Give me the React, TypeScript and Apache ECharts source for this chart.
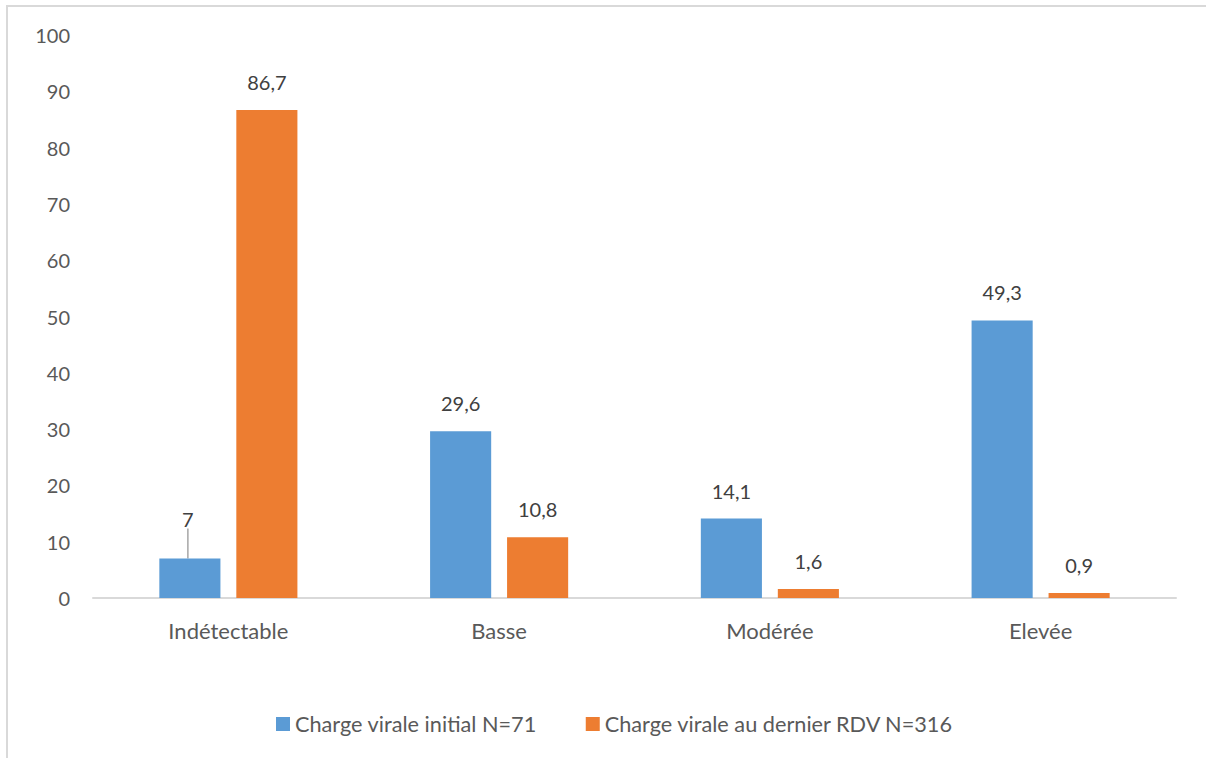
import React, { useEffect, useRef } from "react";
import * as echarts from "echarts";

const categories = ["Indétectable", "Basse", "Modérée", "Elevée"];
const seriesInitial = [7, 29.6, 14.1, 49.3];
const seriesDernier = [86.7, 10.8, 1.6, 0.9];
const seriesNames = ["Charge virale initial N=71", "Charge virale au dernier RDV N=316"];

const FONT = "Lato, 'Open Sans', sans-serif";
const fmt = (v: number) => String(v).replace(".", ",");

export default function App() {
  const ref = useRef<HTMLDivElement>(null);
  useEffect(() => {
    if (!ref.current) return;
    const chart = echarts.init(ref.current, null, { renderer: "svg" });
    const labelCommon = {
      show: true,
      position: "top" as const,
      distance: 18,
      color: "#404040",
      fontSize: 20,
      fontFamily: FONT,
      formatter: (p: any) => fmt(p.value),
    };
    chart.setOption({
      animation: false,
      backgroundColor: "#ffffff",
      textStyle: { fontFamily: FONT },
      grid: { left: 93, right: 30, top: 35, bottom: 160, containLabel: false },
      legend: {
        top: 708,
        left: 271,
        itemWidth: 14,
        itemHeight: 14,
        itemGap: 49,
        icon: "rect",
        textStyle: { color: "#595959", fontSize: 21.7, fontFamily: FONT },
        data: seriesNames,
      },
      xAxis: {
        type: "category",
        data: categories,
        axisLine: { lineStyle: { color: "#d9d9d9", width: 2 } },
        axisTick: { show: false },
        axisLabel: { color: "#595959", fontSize: 22, fontFamily: FONT, margin: 21 },
      },
      yAxis: {
        type: "value",
        min: 0,
        max: 100,
        interval: 10,
        axisLine: { show: false },
        axisTick: { show: false },
        splitLine: { show: false },
        axisLabel: { color: "#595959", fontSize: 20, fontFamily: FONT, margin: 23 },
      },
      series: [
        {
          name: seriesNames[0],
          type: "bar",
          barGap: "26%",
          barCategoryGap: "49%",
          itemStyle: { color: "#5B9BD5" },
          label: labelCommon,
          labelLine: { show: false, lineStyle: { color: "#a6a6a6", width: 1.5 } },
          labelLayout: (p: any) => (p.dataIndex === 0 ? { dy: -12, dx: -2 } : {}),
          data: seriesInitial.map((v, i) =>
            i === 0 ? { value: v, labelLine: { show: true } } : v
          ),
        },
        {
          name: seriesNames[1],
          type: "bar",
          barGap: "26%",
          barCategoryGap: "49%",
          itemStyle: { color: "#ED7D31" },
          label: labelCommon,
          data: seriesDernier,
        },
      ],
      graphic: [
        {
          type: "line",
          shape: { x1: 7, y1: 6, x2: 7, y2: 758 },
          style: { stroke: "#d9d9d9", lineWidth: 2 },
        },
        {
          type: "line",
          shape: { x1: 6, y1: 6, x2: 1206, y2: 6 },
          style: { stroke: "#d9d9d9", lineWidth: 2 },
        },
      ],
    });
    return () => chart.dispose();
  }, []);
  return (
    <div
      ref={ref}
      style={{ position: "fixed", left: 0, top: 0, width: 1206, height: 758 }}
    />
  );
}
